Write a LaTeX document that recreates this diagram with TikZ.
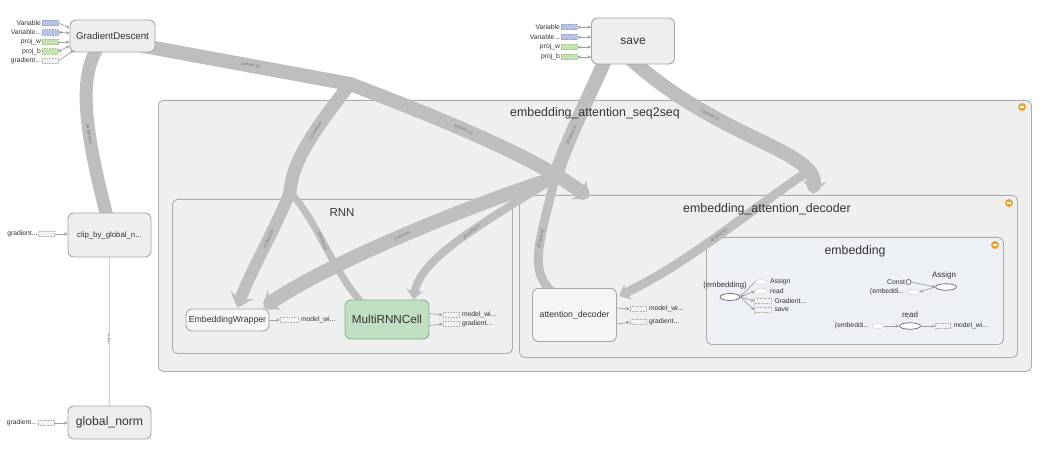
\documentclass[tikz,border=0pt]{standalone}
\usepackage{fontspec}
\setmainfont{Liberation Sans}
\usetikzlibrary{arrows.meta,calc,shapes.geometric}
\pgfdeclarelayer{groups}
\pgfdeclarelayer{edges}
\pgfsetlayers{groups,edges,main}
\definecolor{grpfill}{HTML}{EFEFEF}
\definecolor{grpline}{HTML}{ACACAC}
\definecolor{embfill}{HTML}{EDF0F5}
\definecolor{opfill}{HTML}{EEEEEE}
\definecolor{opline}{HTML}{A6A6A6}
\definecolor{greenfill}{HTML}{BFDFC2}
\definecolor{greenline}{HTML}{8AAE8E}
\definecolor{bandc}{HTML}{BEBEBE}
\definecolor{bluef}{HTML}{B8C3E3}
\definecolor{blueb}{HTML}{97A5CC}
\definecolor{projf}{HTML}{C6E2B3}
\definecolor{projb}{HTML}{9FC58A}
\definecolor{gradf}{HTML}{F3F3F3}
\definecolor{gradb}{HTML}{B0B0B0}
\definecolor{arrc}{HTML}{A0A0A0}
\definecolor{txt}{HTML}{333333}
\definecolor{iconc}{HTML}{F0A030}
\begin{document}
\begin{tikzpicture}[x=1pt,y=-1pt,
  grp/.style={draw=grpline, fill=grpfill, rounded corners=5pt, line width=0.9pt, inner sep=0pt, anchor=north west},
  op/.style={draw=opline, fill=opfill, rounded corners=6pt, line width=0.9pt, inner sep=0pt, text=txt},
  ttl/.style={text=txt, inner sep=0pt},
  band/.style={draw=bandc, line width=#1, line cap=round},
  bl/.style={font=\fontsize{4.3}{5}\selectfont, text=black!55, inner sep=0pt},
  sl/.style={font=\fontsize{6.8}{7}\selectfont, text=txt, inner sep=0.5pt},
  stub/.style={rectangle, densely dotted, line width=0.6pt, minimum width=16pt, minimum height=5.5pt, inner sep=0pt},
  varstub/.style={stub, draw=blueb, fill=bluef},
  projstub/.style={stub, draw=projb, fill=projf},
  gradstub/.style={stub, draw=gradb, fill=gradf},
  estub/.style={ellipse, densely dotted, draw=gradb, fill=white, line width=0.6pt, minimum width=12pt, minimum height=5pt, inner sep=0pt},
  opell/.style={ellipse, draw=black!60, fill=white, line width=0.7pt, minimum width=21pt, minimum height=6.5pt, inner sep=0pt},
  sa/.style={draw=arrc, line width=0.7pt, -{Stealth[length=3.5pt,width=3.5pt]}},
  dsa/.style={draw=arrc, line width=0.7pt, {Stealth[length=3.5pt,width=3.5pt]}-{Stealth[length=3.5pt,width=3.5pt]}},
  tipL/.style={-{Stealth[length=13pt,width=24pt,inset=4pt]}},
  tipS/.style={-{Stealth[length=10pt,width=17pt,inset=3pt]}},
  icon/.style={circle, fill=iconc, minimum size=8pt, inner sep=0pt}
]
\begin{pgfonlayer}{groups}
\fill[white] (0,0) rectangle (1046,454);
\node[grp, minimum width=873pt, minimum height=271pt] (seq) at (158,100) {};
\node[grp, minimum width=340pt, minimum height=154pt] (rnn) at (172,199) {};
\node[grp, minimum width=498pt, minimum height=162pt] (dec) at (519,195) {};
\node[grp, fill=embfill, minimum width=297pt, minimum height=107pt] (emb) at (706,237) {};
\end{pgfonlayer}
\useasboundingbox (0,0) rectangle (1046,454);

% group titles and icons
\node[ttl, font=\fontsize{12.4}{14}\selectfont] (seqt) at (595,113) {embedding\_attention\_seq2seq};
\node[ttl, font=\fontsize{11.5}{13}\selectfont] (rnnt) at (342,213) {RNN};
\node[ttl, font=\fontsize{12.4}{14}\selectfont] (dect) at (767,209) {embedding\_attention\_decoder};
\node[ttl, font=\fontsize{12.3}{14}\selectfont] (embt) at (855,251) {embedding};
\node[icon] (i1) at (1022,107) {};
\node[icon] (i2) at (1009,203) {};
\node[icon] (i3) at (995,245) {};
\foreach \ic in {i1,i2,i3}{\draw[white, line width=1.3pt] ($(\ic.west)+(1.8,0)$) -- ($(\ic.east)+(-1.8,0)$);}

% op nodes
\node[op, minimum width=85pt, minimum height=32pt, font=\fontsize{9.7}{11}\selectfont] (gd) at (112.5,36) {GradientDescent};
\node[op, minimum width=83pt, minimum height=46pt, font=\fontsize{12}{14}\selectfont] (save) at (633,41) {save};
\node[op, minimum width=83pt, minimum height=44pt, font=\fontsize{7.8}{9}\selectfont] (clip) at (109.5,235) {clip\_by\_global\_n...};
\node[op, minimum width=83pt, minimum height=33pt, font=\fontsize{12.2}{14}\selectfont] (gn) at (109.5,422.5) {global\_norm};
\node[op, fill=white!50!opfill, minimum width=83pt, minimum height=22pt, font=\fontsize{8.7}{10}\selectfont] (ew) at (227.5,320) {EmbeddingWrapper};
\node[op, fill=greenfill, draw=greenline, minimum width=84pt, minimum height=39pt, font=\fontsize{11.7}{13}\selectfont] (mrnn) at (387,319.5) {MultiRNNCell};
\node[op, fill=white!40!opfill, minimum width=84pt, minimum height=53pt, font=\fontsize{8.7}{10}\selectfont] (ad) at (574.5,315) {attention\_decoder};

% GradientDescent inputs
\node[varstub] (gdv1) at (50,23) {};
\node[sl, anchor=east] (gdv1l) at (gdv1.west) {Variable};
\node[varstub] (gdv2) at (50,32.3) {};
\node[sl, anchor=east] (gdv2l) at (gdv2.west) {Variable...};
\node[projstub] (gdp1) at (50,42) {};
\node[sl, anchor=east] (gdp1l) at (gdp1.west) {proj\_w};
\node[projstub] (gdp2) at (50,51.5) {};
\node[sl, anchor=east] (gdp2l) at (gdp2.west) {proj\_b};
\node[gradstub] (gdg) at (50,61) {};
\node[sl, anchor=east] (gdgl) at (gdg.west) {gradient...};
\draw[sa] (gdv1.east) -- ($(gd.west)+(0,-8)$);
\draw[dsa] (gdv2.east) -- ($(gd.west)+(0,-3)$);
\draw[sa] (gdp1.east) -- ($(gd.west)+(0,6)$);
\draw[dsa] (gdp2.east) -- ($(gd.west)+(0,10)$);
\draw[sa] (gdg.east) -- ($(gd.south west)+(4,-2)$);

% save inputs
\node[varstub] (sv1) at (569,27) {};
\node[sl, anchor=east] (sv1l) at (sv1.west) {Variable};
\node[varstub] (sv2) at (569,37) {};
\node[sl, anchor=east] (sv2l) at (sv2.west) {Variable...};
\node[projstub] (sp1) at (569,47) {};
\node[sl, anchor=east] (sp1l) at (sp1.west) {proj\_w};
\node[projstub] (sp2) at (569,57) {};
\node[sl, anchor=east] (sp2l) at (sp2.west) {proj\_b};
\foreach \s in {sv1,sv2,sp1,sp2}{\draw[dsa] (\s.east) -- (\s.east -| save.west);}

% clip and global_norm inputs
\node[gradstub] (clg) at (46.5,234) {};
\node[sl, anchor=east] (clgl) at (clg.west) {gradient...};
\draw[sa] (clg.east) -- (clg.east -| clip.west);
\node[gradstub] (gng) at (46,423) {};
\node[sl, anchor=east] (gngl) at (gng.west) {gradient...};
\draw[sa] (gng.east) -- (gng.east -| gn.west);

% outputs
\node[gradstub, minimum width=18pt] (ewo) at (289,320) {};
\node[sl, anchor=west] (ewol) at ($(ewo.east)+(2,0)$) {model\_wi...};
\draw[sa] (ew.east) -- (ewo.west);
\node[gradstub] (mo1) at (451,315) {};
\node[sl, anchor=west] (mo1l) at ($(mo1.east)+(2,0)$) {model\_wi...};
\node[gradstub] (mo2) at (451,324) {};
\node[sl, anchor=west] (mo2l) at ($(mo2.east)+(2,0)$) {gradient...};
\draw[sa] ($(mrnn.east)+(0,-6)$) -- (mo1.west);
\draw[sa] ($(mrnn.east)+(0,6)$) -- (mo2.west);
\node[gradstub] (ao1) at (638,309) {};
\node[sl, anchor=west] (ao1l) at ($(ao1.east)+(2,0)$) {model\_wi...};
\node[gradstub] (ao2) at (638,322) {};
\node[sl, anchor=west] (ao2l) at ($(ao2.east)+(2,0)$) {gradient...};
\draw[sa] ($(ad.east)+(0,-7)$) -- (ao1.west);
\draw[sa] ($(ad.east)+(0,9)$) -- (ao2.west);

% inside embedding
\node[opell, minimum width=20pt, minimum height=7pt] (embv) at (730,297) {};
\node[ttl, font=\fontsize{7.7}{9}\selectfont] (embvl) at (725,286) {(embedding)};
\node[estub] (ea) at (761,282) {};
\node[sl, anchor=west] (eal) at ($(ea.east)+(2,0)$) {Assign};
\node[estub] (er) at (761,291) {};
\node[sl, anchor=west] (erl) at ($(er.east)+(2,0)$) {read};
\node[gradstub, minimum width=17pt] (eg) at (763,301) {};
\node[sl, anchor=west] (egl) at ($(eg.east)+(2,0)$) {Gradient...};
\node[gradstub, minimum width=17pt] (es) at (763,310) {};
\node[sl, anchor=west] (esl) at ($(es.east)+(2,0)$) {save};
\draw[sa] (ea.west) -- (embv.east);
\draw[sa] (embv.east) -- (er.west);
\draw[sa] (embv.east) -- (eg.west);
\draw[sa] (embv.east) -- (es.west);

\node[circle, draw=black!60, fill=white, line width=0.7pt, minimum size=5pt, inner sep=0pt] (cst) at (908.5,282) {};
\node[sl, anchor=east] (cstl) at (cst.west) {Const};
\node[opell] (asg) at (946,287) {};
\node[ttl, font=\fontsize{8}{9}\selectfont] (asgl) at (944,275) {Assign};
\node[estub] (ae) at (913,292) {};
\node[sl, anchor=east] (ael) at ($(ae.west)+(-2,0)$) {(embeddi...};
\draw[sa] (cst.east) -- (asg.west);
\draw[sa] (asg.west) -- (ae.east);

\node[opell] (rd) at (910,326) {};
\node[ttl, font=\fontsize{8}{9}\selectfont] (rdl) at (910,315) {read};
\node[estub] (re) at (878,326) {};
\node[sl, anchor=east] (rel) at ($(re.west)+(-2,0)$) {(embeddi...};
\node[gradstub, minimum width=15pt] (ro) at (943,326) {};
\node[sl, anchor=west] (rol) at ($(ro.east)+(2,0)$) {model\_wi...};
\draw[sa] (re.east) -- (rd.west);
\draw[sa] (rd.east) -- (ro.west);

% thick dataflow bands
\begin{pgfonlayer}{edges}
\coordinate (j1) at (350,84);
\coordinate (j2) at (290,192);
\coordinate (j3) at (555,178);
\coordinate (j4) at (810,170);
\draw[band=13pt] ($(gd.south)+(-14,-6)$) .. controls (80,75) and (82,120) .. ($(clip.north)+(-3,2)$)
  node[bl, pos=0.66, rotate=-79] (l12) {34 tensors};
\draw[draw=black!17, line width=1.6pt] (clip.south) -- (gn.north)
  node[bl, pos=0.55, rotate=-90, fill=white, inner sep=0.5pt] (l13) {scalar};
\draw[band=14pt] ($(gd.east)+(-12,10)$) -- (j1)
  node[bl, pos=0.52, rotate=170.6] (l1) {34 tensors};
\draw[band=14pt, tipL] (j1) .. controls (450,122) and (540,160) .. ($(dec.north west)+(70,3)$)
  node[bl, pos=0.4, rotate=156.4] (l2) {27 tensors};
\draw[band=13pt] (j1) .. controls (318,125) and (292,160) .. (j2)
  node[bl, pos=0.4, rotate=58] (l3) {13 tensors};
\draw[band=12pt, tipL] (j2) .. controls (275,230) and (250,272) .. ($(ew.north)+(10,-1)$)
  node[bl, pos=0.4, rotate=66] (l4) {4096x105};
\draw[band=7pt] (j2) .. controls (318,222) and (333,272) .. ($(mrnn.north west)+(18,4)$)
  node[bl, pos=0.45, rotate=113] (l5) {22 tensors};
\draw[band=14pt] ($(save.south)+(-28,-4)$) .. controls (585,105) and (565,145) .. (j3)
  node[bl, pos=0.6, rotate=66] (l6) {26 tensors};
\draw[band=14pt, tipL] (j3) .. controls (470,205) and (330,262) .. ($(ew.north east)+(-6,-1)$)
  node[bl, pos=0.5, rotate=26] (l7) {2 tensors};
\draw[band=8pt, tipS] (j3) .. controls (480,225) and (420,258) .. ($(mrnn.north east)+(-16,0)$)
  node[bl, pos=0.42, rotate=40] (l8) {24 tensors};
\draw[band=9pt] (j3) .. controls (540,240) and (528,270) .. ($(ad.north west)+(20,4)$)
  node[bl, pos=0.4, rotate=78] (l9) {20 tensors};
\draw[band=14pt, tipL] ($(save.south)+(-3,-6)$) .. controls (720,140) and (818,150) .. ($(dec.north west)+(294,-1)$)
  node[bl, pos=0.3, rotate=153] (l10) {22 tensors};
\draw[band=9pt, tipS] (j4) .. controls (750,210) and (690,262) .. ($(ad.north east)+(2,8)$)
  node[bl, pos=0.5, rotate=37] (l11) {40 tensors};
\end{pgfonlayer}
\end{tikzpicture}
\end{document}
